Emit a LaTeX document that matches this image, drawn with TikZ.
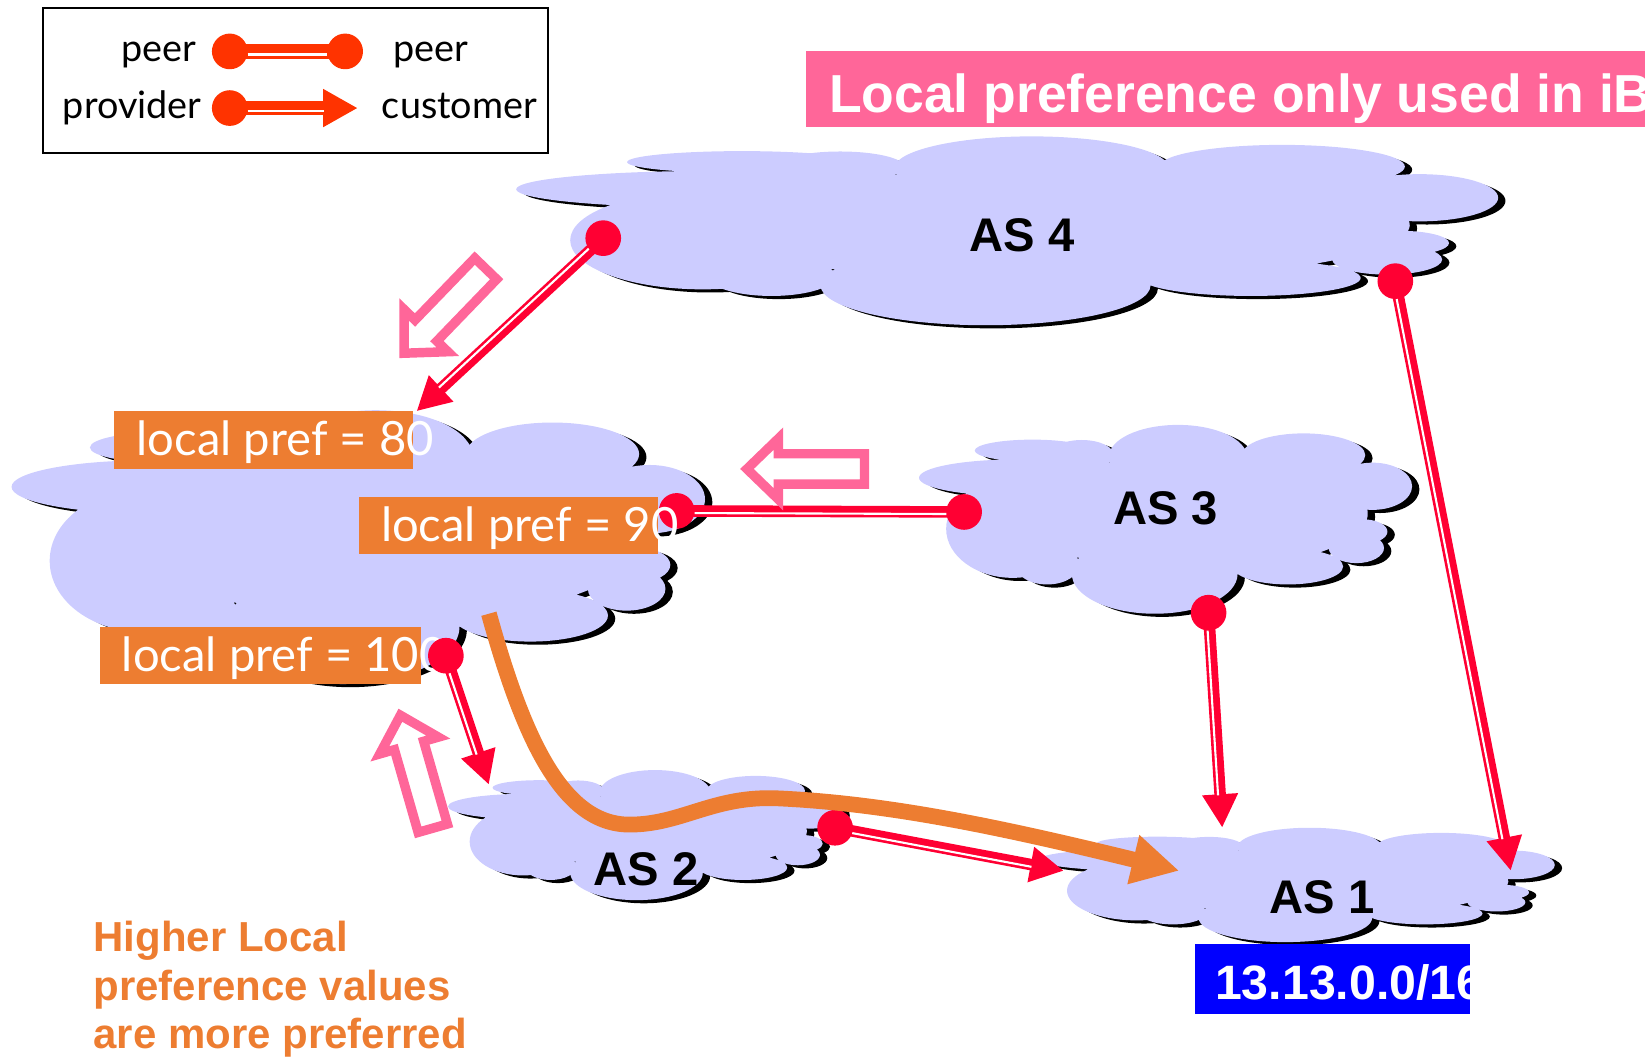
\documentclass[tikz,border=0pt]{standalone}
\usepackage{fontspec}
\setmainfont{Liberation Sans}
\newfontfamily\lato{Lato}
\usetikzlibrary{arrows.meta,calc}

\definecolor{linkred}{HTML}{FF0033}
\definecolor{legred}{HTML}{FF3300}
\definecolor{hollowpink}{HTML}{FF6699}
\definecolor{prefor}{HTML}{ED7D31}
\definecolor{cloudblue}{HTML}{CCCCFF}
\definecolor{pfxblue}{HTML}{0000FF}

% one cloud in a unit box
\newcommand\cloudpuffs[1]{%
  \fill[#1] (0.230,0.136) ellipse (0.117 and 0.058)
    (0.197,0.280) ellipse (0.197 and 0.097)
    (0.190,0.550) ellipse (0.135 and 0.260)
    (0.260,0.740) ellipse (0.065 and 0.105)
    (0.478,0.790) ellipse (0.168 and 0.210)
    (0.748,0.750) ellipse (0.112 and 0.095)
    (0.887,0.652) ellipse (0.056 and 0.080)
    (0.900,0.565) ellipse (0.050 and 0.065)
    (0.920,0.325) ellipse (0.080 and 0.125)
    (0.780,0.160) ellipse (0.125 and 0.115)
    (0.525,0.170) ellipse (0.140 and 0.170)
    (0.330,0.160) ellipse (0.065 and 0.080)
    (0.720,0.330) ellipse (0.200 and 0.180)
    (0.550,0.470) ellipse (0.360 and 0.300);}
% cloud with its shadow: x, y, width, height
\newcommand\ascloud[4]{%
  \cloudpuffs{black, shift={(#1+7,#2+3)}, xscale=#3, yscale=#4}
  \cloudpuffs{cloudblue, shift={(#1,#2)}, xscale=#3, yscale=#4}}
% white line inside a link, on its right side
\newcommand\linkstripe[4]{%
  \draw[#4] ($(#1)!#3!-90:(#2)$) -- ($(#2)!#3!90:(#1)$);}

\begin{document}
\begin{tikzpicture}[x=1pt, y=-1pt,
  asdot/.style={circle, fill=linkred, minimum size=34pt, inner sep=0pt},
  legdot/.style={circle, fill=legred, minimum size=34pt, inner sep=0pt},
  redlink/.style={draw=linkred, line width=11pt, shorten <=-4pt},
  redhead/.style={-{Triangle[length=32pt,width=32pt]}},
  wstripe/.style={draw=white, line width=2pt},
  leglink/.style={draw=legred, line width=14pt, shorten <=-4pt},
  legstripe/.style={draw=white, line width=2.2pt},
  legbox/.style={draw, line width=2pt, inner sep=0pt, anchor=north west,
    minimum width=481pt, minimum height=138pt},
  legtext/.style={font=\lato\fontsize{36}{40}\selectfont, inner sep=0pt, anchor=base},
  prefbox/.style={fill=prefor, inner sep=0pt, anchor=north west},
  preftext/.style={font=\lato\fontsize{45}{50}\selectfont, text=white,
    inner sep=0pt, anchor=base west},
  astext/.style={font=\bfseries\fontsize{45}{50}\selectfont, inner sep=0pt, anchor=base},
  bestpath/.style={draw=prefor, line width=15pt, -{Triangle[length=45pt,width=45pt]}},
  hollow/.style={draw=hollowpink, fill=white, line width=9pt}]
\useasboundingbox (0,0) rectangle (1568,1011);
\clip (0,0) rectangle (1568,1011);

% Clouds
\ascloud{492}{130}{936}{180}
\ascloud{11}{391}{661}{261}
\ascloud{876}{405}{470}{180}
\ascloud{427}{734}{376}{124}
\ascloud{990}{789}{492}{109}

% Title
\node[fill=hollowpink, inner sep=0pt, anchor=north west, minimum width=800pt,
  minimum height=73pt] (banner) at (768,48) {};
\node[font=\bfseries\fontsize{51}{56}\selectfont, text=white, inner sep=0pt,
  anchor=base west] (title) at (790,107) {Local preference only used in iB};

% Legend
\node[legbox] (legend) at (40,7) {};
\node[legdot] (lpa) at (219,49) {};
\node[legdot] (lpb) at (329,49) {};
\node[legdot] (lpc) at (219,103) {};
\coordinate (lpd) at (341,103);
\draw[leglink, shorten >=-4pt] (lpa) -- (lpb);
\draw[leglink, -{Triangle[length=33pt,width=34pt]}] (lpc) -- (lpd);
\linkstripe{lpa}{lpb}{3pt}{legstripe, shorten <=17pt, shorten >=17pt}
\linkstripe{lpc}{lpd}{3pt}{legstripe, shorten <=17pt, shorten >=32pt}
\node[legtext] (lpeera) at (151,59) {peer};
\node[legtext] (lpeerb) at (411,59) {peer};
\node[legtext] (lprov) at (126,113) {provider};
\node[legtext] (lcust) at (438,113) {customer};

% local pref = 100 (under its dot)
\node[prefbox, minimum width=306pt, minimum height=55pt] (pb100) at (95,597) {};
\node[preftext] (pt100) at (116,640) {local pref = 100};

% Dots
\node[asdot] (as4w) at (575,227) {};
\node[asdot] (as4e) at (1330,268) {};
\node[asdot] (lfe) at (645,487) {};
\node[asdot] (as3w) at (919,488) {};
\node[asdot] (as3s) at (1152,584) {};
\node[asdot] (lfs) at (425,625) {};
\node[asdot] (as2e) at (796,789) {};

% Arrow ends
\coordinate (lfn) at (397,392);
\coordinate (as1ne) at (1440,830);
\coordinate (as1n) at (1165,789);
\coordinate (as2nw) at (466,748);
\coordinate (as1w) at (1014,830);

% Links
\draw[redlink, redhead] (as4w) -- (lfn);
\draw[redlink, redhead] (as4e) -- (as1ne);
\draw[redlink, redhead] (as3s) -- (as1n);
\draw[redlink, redhead] (lfs) -- (as2nw);
\draw[redlink, redhead] (as2e) -- (as1w);
\draw[redlink, shorten >=-4pt] (lfe) -- (as3w);
\linkstripe{as4w}{lfn}{2pt}{wstripe, shorten <=17pt, shorten >=31pt}
\linkstripe{as4e}{as1ne}{2pt}{wstripe, shorten <=17pt, shorten >=31pt}
\linkstripe{as3s}{as1n}{2pt}{wstripe, shorten <=17pt, shorten >=31pt}
\linkstripe{lfs}{as2nw}{2pt}{wstripe, shorten <=17pt, shorten >=31pt}
\linkstripe{as2e}{as1w}{2pt}{wstripe, shorten <=17pt, shorten >=31pt}
\linkstripe{lfe}{as3w}{2pt}{wstripe, shorten <=17pt, shorten >=17pt}

% local pref = 80, 90
\node[prefbox, minimum width=285pt, minimum height=55pt] (pb80) at (108,392) {};
\node[preftext] (pt80) at (130,434) {local pref = 80};
\node[prefbox, minimum width=285pt, minimum height=54pt] (pb90) at (342,474) {};
\node[preftext] (pt90) at (363,516) {local pref = 90};

% Chosen route
\coordinate (bstart) at (466,585);
\coordinate (bfinish) at (1124,830);
\draw[bestpath] (bstart) .. controls (498,700) and (535,786) .. (600,786)
  .. controls (650,786) and (680,758) .. (742,761)
  .. controls (850,766) and (960,790) .. (bfinish);

% AS names
\node[astext] (as4) at (974,240) {AS 4};
\node[astext] (as3) at (1111,500) {AS 3};
\node[astext] (as2) at (616,844) {AS 2};
\node[astext] (as1) at (1260,871) {AS 1};

% Hollow arrows
\draw[hollow, shift={(381,341)}, rotate=226] (-6,0) -- (-36,29) -- (-36,14.5)
  -- (-118,14.5) -- (-118,-14.5) -- (-36,-14.5) -- (-36,-29) -- cycle;
\draw[hollow, shift={(706,447)}, rotate=180] (-6,0) -- (-36,29) -- (-36,14.5)
  -- (-118,14.5) -- (-118,-14.5) -- (-36,-14.5) -- (-36,-29) -- cycle;
\draw[hollow, shift={(380,676)}, rotate=106] (-6,0) -- (-36,29) -- (-36,14.5)
  -- (-118,14.5) -- (-118,-14.5) -- (-36,-14.5) -- (-36,-29) -- cycle;

% Prefix
\node[fill=pfxblue, inner sep=0pt, anchor=north west, minimum width=262pt,
  minimum height=66pt] (pfx) at (1139,900) {};
\begin{scope}
\clip (pfx.north west) rectangle (pfx.south east);
\node[font=\bfseries\fontsize{46}{50}\selectfont, text=white, inner sep=0pt,
  anchor=base west] (pfxtext) at (1158,953) {13.13.0.0/16};
\end{scope}

% Note
\node[font=\bfseries\fontsize{40}{46}\selectfont, text=prefor, align=left,
  inner sep=0pt, anchor=north west] (note) at (89,878)
  {Higher Local\\preference values\\are more preferred};
\end{tikzpicture}
\end{document}
